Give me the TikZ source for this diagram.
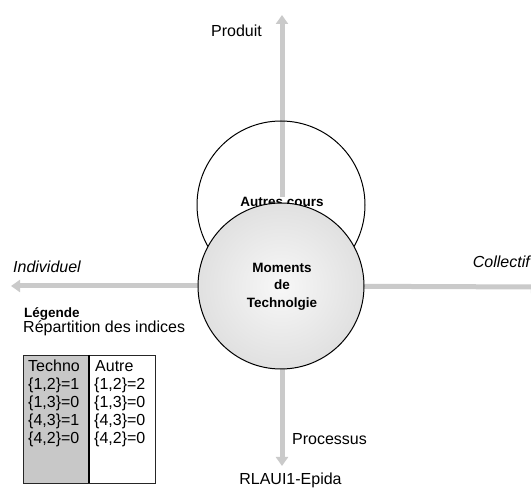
\documentclass[tikz,border=0pt]{standalone}
\usepackage{fontspec}
\setmainfont{Liberation Sans}
\usetikzlibrary{arrows.meta}
\definecolor{axisgray}{HTML}{CACACA}
\definecolor{colgray}{HTML}{C8C8C8}
\begin{document}
\begin{tikzpicture}[x=1pt,y=-1pt,
  axis/.style={draw=axisgray,line width=5pt,-{Triangle[width=12pt,length=9pt]}},
  lbl/.style={inner sep=0pt,font=\fontsize{16}{18}\selectfont},
  ilbl/.style={lbl,font=\fontsize{16}{18}\selectfont\itshape},
  blbl/.style={inner sep=0pt,font=\fontsize{13.5}{16}\selectfont\bfseries},
  circ/.style={circle,draw=black,line width=1pt,minimum size=168pt,inner sep=0pt},
  cell/.style={inner sep=0pt,anchor=base west,font=\fontsize{16}{18}\selectfont}]
\useasboundingbox (0,0) rectangle (531,489);
\clip (0,0) rectangle (531,489);
% axes
\coordinate (c) at (282,286);
\coordinate (top) at (282,15);
\coordinate (bot) at (282,466);
\coordinate (left) at (11,286);
\coordinate (right) at (540,287);
\draw[axis] (c) -- (top);
\draw[axis] (c) -- (bot);
\draw[axis] (c) -- (left);
\draw[axis] (c) -- (right);
% upper circle
\node[circ] (autres) at (281,205) {};
\node[blbl,anchor=base,fill=white,inner sep=1pt] (autrestxt) at (282,207) {Autres cours};
% lower circle
\node[circ,minimum size=166pt,shading=radial,inner color=white!97!black,outer color=white!88!black,draw=black] (moments) at (281,286) {};
\node[blbl,anchor=base] (m1) at (282,273) {Moments};
\node[blbl,anchor=base] (m2) at (282,290) {de};
\node[blbl,anchor=base] (m3) at (282,308) {Technolgie};
% axis labels
\node[lbl,anchor=base west] (produit) at (211,37) {Produit};
\node[ilbl,anchor=base west] (indiv) at (13,273) {Individuel};
\node[ilbl,anchor=base east] (coll) at (530,268) {Collectif};
\node[lbl,anchor=base west] (proc) at (292,445) {Processus};
\node[lbl,anchor=base] (rlaui) at (290.5,485) {RLAUI1-Epida};
% legend
\node[blbl,anchor=base west] (leg) at (24,318) {Légende};
\node[lbl,anchor=base west] (rep) at (23,333) {Répartition des indices};
\fill[colgray] (23,355) rectangle (89,483);
\draw[black!85,line width=0.8pt] (23,355) rectangle (155,483);
\draw[black,line width=1.2pt] (89,355) -- (89,483);
\node[cell] (t0) at (28,372) {Techno};
\node[cell] (t1) at (28,390) {\{1,2\}=1};
\node[cell] (t2) at (28,408) {\{1,3\}=0};
\node[cell] (t3) at (28,426) {\{4,3\}=1};
\node[cell] (t4) at (28,444) {\{4,2\}=0};
\node[cell] (a0) at (95,372) {Autre};
\node[cell] (a1) at (94,390) {\{1,2\}=2};
\node[cell] (a2) at (94,408) {\{1,3\}=0};
\node[cell] (a3) at (94,426) {\{4,3\}=0};
\node[cell] (a4) at (94,444) {\{4,2\}=0};
\end{tikzpicture}
\end{document}
